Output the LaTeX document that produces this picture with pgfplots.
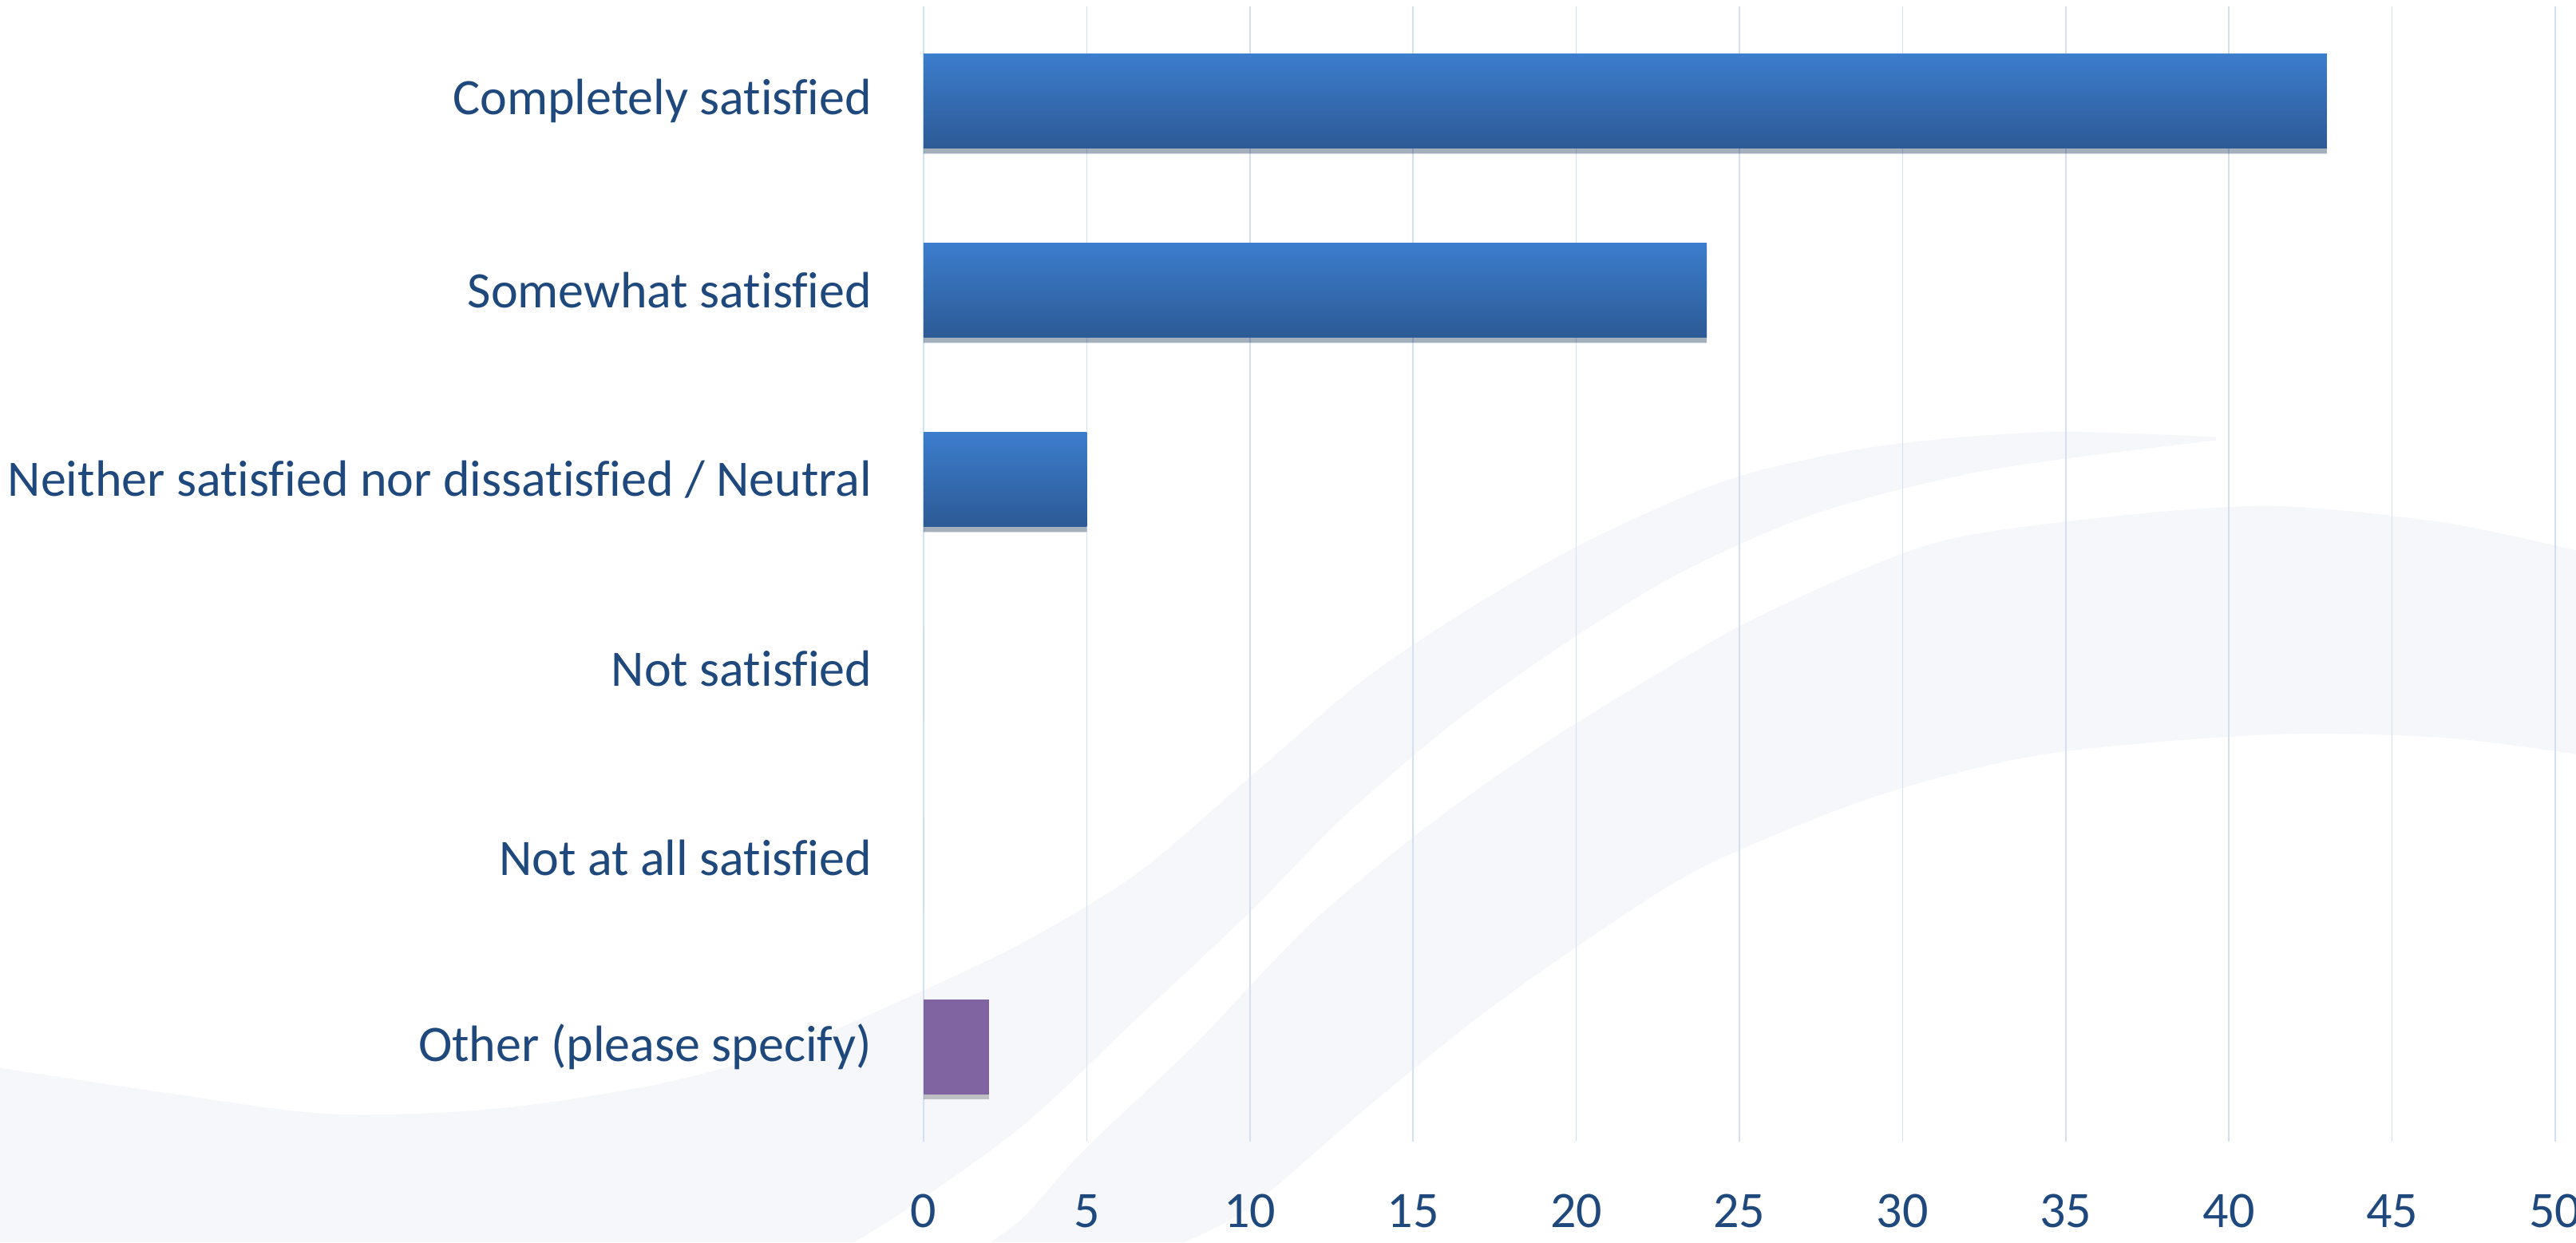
\documentclass[border=0pt]{standalone}
\usepackage{pgfplots}
\pgfplotsset{compat=1.18}
\usepackage{fontspec}
\setmainfont{Carlito}[Ligatures=CommonOff]

\definecolor{txt}{HTML}{1F497D}
\definecolor{gridc}{HTML}{D3E0F1}
\definecolor{bartop}{HTML}{3C7DCD}
\definecolor{barbot}{HTML}{2C5A95}
\definecolor{other}{HTML}{8064A2}
\definecolor{swoosh}{HTML}{F5F7FB}

\pgfplotsset{
  bluebar/.style={draw=none, top color=bartop, bottom color=barbot,
    preaction={fill=black, opacity=0.22, transform canvas={yshift=-1.6pt}}},
}

\begin{document}
\begin{tikzpicture}
% faint background swooshes (page pixel grid of the 1568x756 view)
\begin{scope}[shift={(-289.25pt,357.5pt)}, x=0.5145pt, y=-0.5145pt]
\fill[swoosh] plot[smooth] coordinates {(0,650) (100,665) (200,678) (300,675) (400,660) (480,638) (555,606) (624,573) (693,531) (762,472) (831,413) (900,367) (969,328) (1052,292) (1141,272) (1245,263) (1349,266)}
  -- plot[smooth] coordinates {(1349,268) (1211,286) (1107,312) (1024,348) (955,390) (886,439) (817,498) (762,554) (693,619) (624,684) (555,734) (520,756)}
  -- (0,756) -- cycle;
\fill[swoosh] plot[smooth] coordinates {(603,756) (624,740) (659,701) (728,635) (797,563) (866,505) (935,456) (1004,413) (1073,374) (1176,331) (1280,315) (1383,308) (1487,318) (1568,335)}
  -- (1568,459)
  -- plot[smooth] coordinates {(1568,459) (1487,449) (1383,447) (1245,459) (1141,485) (1038,527) (969,570) (900,619) (831,675) (762,734) (721,756)}
  -- cycle;
\end{scope}

\begin{axis}[
    scale only axis,
    width=511pt, height=355.5pt,
    xmin=0, xmax=50,
    ymin=-0.5, ymax=5.5,
    y dir=reverse,
    xtick={0,5,...,50},
    ytick={0,1,2,3,4,5},
    yticklabels={Completely satisfied, Somewhat satisfied,
      Neither satisfied nor dissatisfied / Neutral, Not satisfied,
      Not at all satisfied, Other (please specify)},
    xmajorgrids=true,
    grid style={color=gridc, line width=0.4pt},
    axis line style={draw=none},
    major tick length=0pt,
    tick label style={font=\fontsize{16}{19}\selectfont, text=txt},
    /pgf/number format/assume math mode=true,
    xticklabel style={anchor=center, inner sep=0pt, yshift=-21.7pt},
    yticklabel style={anchor=east, inner sep=0pt, xshift=-16pt},
    xbar, bar width=0.5, bar shift=0pt,
]
% one plot per bar so that each bar gets its own gradient
\addplot[bluebar] coordinates {(43,0)};
\addplot[bluebar] coordinates {(24,1)};
\addplot[bluebar] coordinates {(5,2)};
\addplot[bluebar] coordinates {(0,3)};
\addplot[bluebar] coordinates {(0,4)};
\addplot[draw=none, fill=other,
    preaction={fill=black, opacity=0.22, transform canvas={yshift=-1.6pt}}]
    coordinates {(2,5)};
\end{axis}
\pgfresetboundingbox
\useasboundingbox (-289.25pt,-31.5pt) rectangle (517.5pt,357.5pt);
\end{tikzpicture}
\end{document}
